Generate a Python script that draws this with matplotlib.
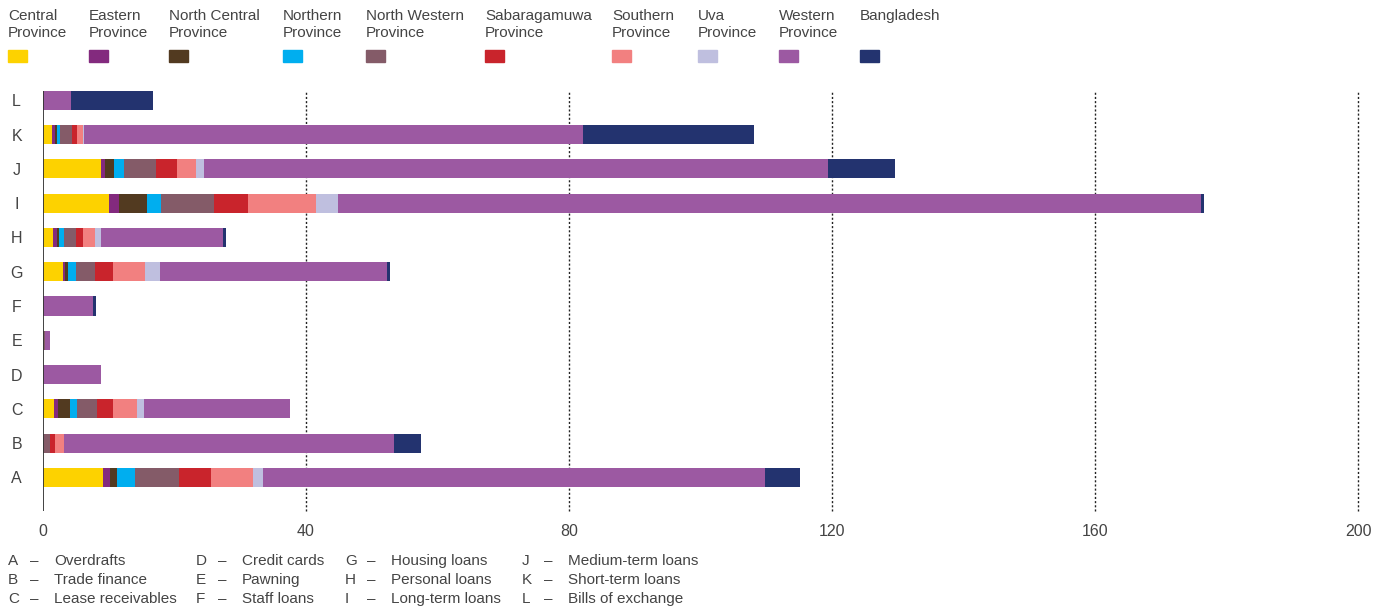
import matplotlib.pyplot as plt
import numpy as np

plt.rcParams['font.family'] = ['Liberation Sans', 'DejaVu Sans']

categories = ['A', 'B', 'C', 'D', 'E', 'F', 'G', 'H', 'I', 'J', 'K', 'L']
provinces = ['Central\nProvince', 'Eastern\nProvince', 'North Central\nProvince',
             'Northern\nProvince', 'North Western\nProvince', 'Sabaragamuwa\nProvince',
             'Southern\nProvince', 'Uva\nProvince', 'Western\nProvince', 'Bangladesh']
colors = ['#fdd200', '#832a7e', '#523a20', '#00aeef', '#845b68', '#c9242c',
          '#f28080', '#bfbfdf', '#9c59a2', '#23336f']

#            A     B     C    D    E    F    G     H     I      J     K     L
central   = [9.1,  0.0,  1.7, 0.0, 0.0, 0.0, 3.1,  1.5,  10.1,  8.8,  1.4,  0.0]
eastern   = [1.1,  0.0,  0.6, 0.0, 0.0, 0.0, 0.3,  0.6,  1.4,   0.6,  0.45, 0.0]
n_central = [1.1,  0.0,  1.8, 0.0, 0.0, 0.0, 0.45, 0.3,  4.3,   1.4,  0.3,  0.0]
northern  = [2.7,  0.0,  1.1, 0.0, 0.0, 0.0, 1.1,  0.8,  2.1,   1.5,  0.4,  0.0]
n_western = [6.7,  1.0,  3.0, 0.0, 0.3, 0.0, 3.0,  1.8,  8.1,   4.9,  1.8,  0.0]
sabara    = [4.9,  0.75, 2.4, 0.0, 0.0, 0.0, 2.7,  1.1,  5.2,   3.2,  0.76, 0.0]
southern  = [6.4,  1.4,  3.7, 0.0, 0.0, 0.0, 4.9,  1.8,  10.3,  2.9,  0.9,  0.0]
uva       = [1.4,  0.0,  1.1, 0.0, 0.0, 0.0, 2.3,  0.9,  3.4,   1.2,  0.3,  0.0]
western   = [76.4, 50.3, 22.1, 8.8, 0.8, 7.6, 34.5, 18.6, 131.2, 94.9, 75.8, 4.2]
bangla    = [5.3,  4.0,  0.0, 0.0, 0.0, 0.5, 0.5,  0.5,  0.5,   10.2, 26.0, 12.6]

series = [central, eastern, n_central, northern, n_western, sabara,
          southern, uva, western, bangla]

key_letters = ['A', 'B', 'C', 'D', 'E', 'F', 'G', 'H', 'I', 'J', 'K', 'L']
key_names = ['Overdrafts', 'Trade finance', 'Lease receivables', 'Credit cards',
             'Pawning', 'Staff loans', 'Housing loans', 'Personal loans',
             'Long-term loans', 'Medium-term loans', 'Short-term loans',
             'Bills of exchange']

xticks = [0, 40, 80, 120, 160, 200]

W, H = 1388, 612
fig = plt.figure(figsize=(W / 100, H / 100), dpi=100)
ax = fig.add_axes([43 / W, 1 - 511 / H, (1358 - 43) / W, (511 - 91) / H])

txt = '#444444'
y = np.arange(len(categories))
left = np.zeros(len(categories))
for vals, c in zip(series, colors):
    vals = np.array(vals)
    ax.barh(y, vals, left=left, height=0.56, color=c, linewidth=0, zorder=3)
    left += vals

ax.set_xlim(0, 200)
ax.set_ylim(-0.98, 11.27)
for xv in xticks[1:]:
    ax.axvline(xv, color='#222222', lw=1.0, ls=(0, (1.5, 1.5)), zorder=1, clip_on=False)
ax.axvline(0, color='#333333', lw=1.3, zorder=4)

for s in ax.spines.values():
    s.set_visible(False)
ax.set_xticks(xticks)
ax.set_xticklabels([str(v) for v in xticks], fontsize=11.5, color=txt)
ax.tick_params(axis='x', length=0, pad=9)
ax.set_yticks(y)
ax.set_yticklabels(categories, fontsize=11.5, color=txt)
ax.tick_params(axis='y', length=0, pad=19)
for lab in ax.get_yticklabels():
    lab.set_horizontalalignment('center')

# top legend
leg_x = [8, 89, 169, 283, 366, 485, 612, 698, 779, 860]
for xp, name, c in zip(leg_x, provinces, colors):
    fig.text(xp / W, 1 - 9 / H, name, fontsize=11, color=txt, va='top',
             ha='left', linespacing=1.25)
    fig.patches.append(plt.Rectangle((xp / W, 1 - 62 / H), 19 / W, 12 / H,
                                     transform=fig.transFigure, color=c))

# bottom key
col_x = [8, 196, 345, 522]
row_y = [561, 580, 599]
for i, (ltr, nm) in enumerate(zip(key_letters, key_names)):
    cx = col_x[i // 3]
    ry = row_y[i % 3]
    fig.text(cx / W, 1 - ry / H, ltr, fontsize=11, color=txt, va='center')
    fig.text((cx + 22) / W, 1 - ry / H, '\u2013', fontsize=11, color=txt, va='center')
    fig.text((cx + 46) / W, 1 - ry / H, nm, fontsize=11, color=txt, va='center')

fig.savefig('out.png', dpi=100)
